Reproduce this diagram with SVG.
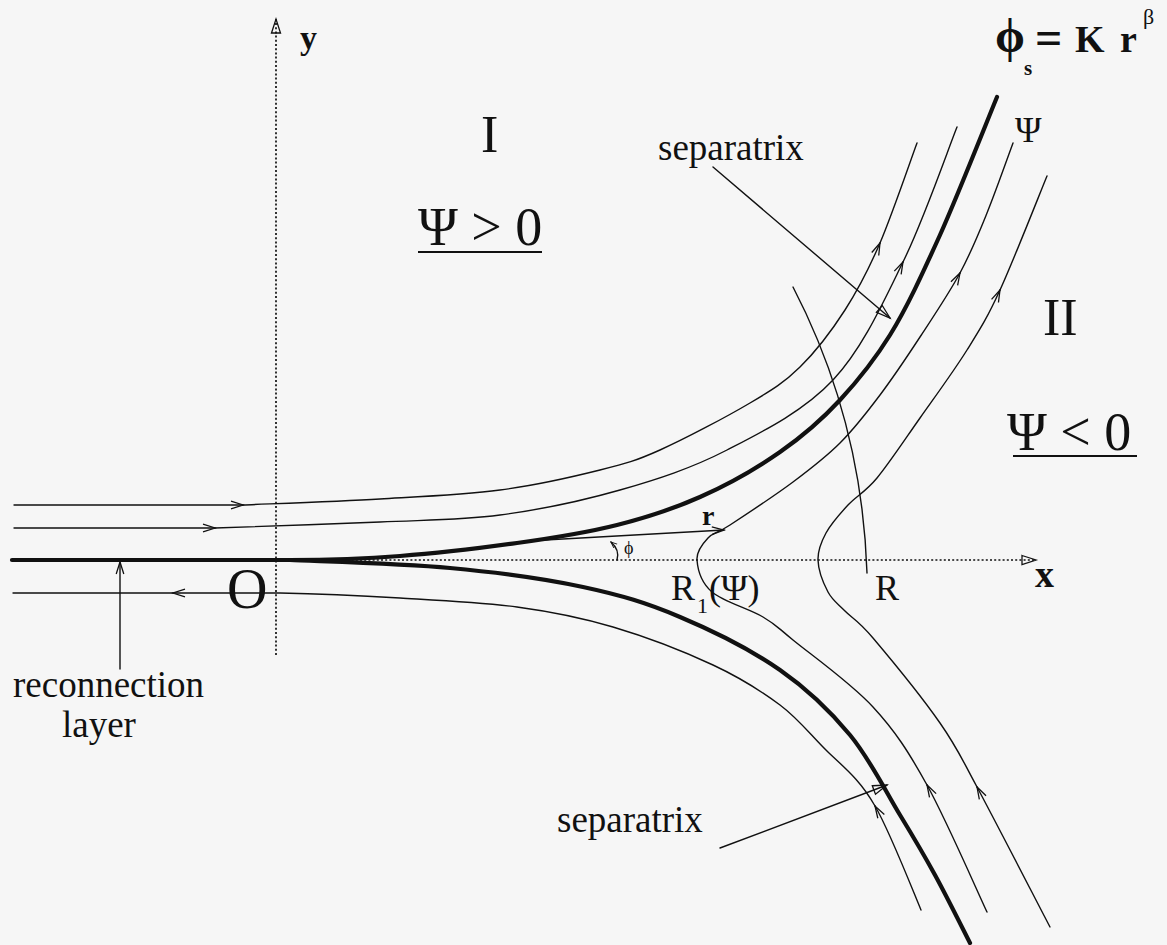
<svg xmlns="http://www.w3.org/2000/svg" width="1167" height="945" viewBox="0 0 1167 945">
<style>
.thin{fill:none;stroke:#111;stroke-width:1.4;stroke-linecap:round;stroke-linejoin:round}
.thick{fill:none;stroke:#111;stroke-width:4.2;stroke-linecap:round;stroke-linejoin:round}
.dot{fill:none;stroke:#111;stroke-width:1.7;stroke-dasharray:2 2.2}
.t{font-family:"Liberation Serif","Times New Roman",serif;fill:#111}
.b{font-weight:bold}
</style>
<defs>
<marker id="ch" viewBox="0 0 14 10" refX="13" refY="5" markerWidth="14" markerHeight="10" markerUnits="userSpaceOnUse" orient="auto" overflow="visible"><path d="M1,1.2 L13,5 L1,8.8" fill="none" stroke="#111" stroke-width="1.3"/></marker>
<marker id="tri" viewBox="0 0 16 12" refX="15" refY="6" markerWidth="16" markerHeight="12" markerUnits="userSpaceOnUse" orient="auto" overflow="visible"><path d="M1,1.5 L15,6 L1,10.5 Z" fill="none" stroke="#111" stroke-width="1.3"/></marker>
<marker id="chs" viewBox="0 0 8 6" refX="7" refY="3" markerWidth="8" markerHeight="6" markerUnits="userSpaceOnUse" orient="auto" overflow="visible"><path d="M1,0.5 L7,3 L1,5.5" fill="none" stroke="#111" stroke-width="1"/></marker>
</defs>
<rect width="1167" height="945" fill="#f6f6f6"/>

<g id="axes">
<line class="dot" x1="276" y1="655" x2="276" y2="19" marker-end="url(#tri)"/>
<line class="dot" x1="276" y1="560" x2="1036" y2="560" marker-end="url(#tri)"/>
</g>

<g id="field-lines">
<g id="line-1">
<path class="thin" d="M14,505 L243,505" marker-end="url(#ch)"/>
<path class="thin" d="M243,505 C265.8,504 337.2,501.5 380,499 C422.8,496.5 463.3,494.8 500,490 C536.7,485.2 573.3,476.7 600,470 C626.7,463.3 635,461.2 660,450 C685,438.8 726.7,416.8 750,403 C773.3,389.2 784.2,382.5 800,367 C815.8,351.5 831.7,330.7 845,310 C858.3,289.3 868,270.8 880,243" marker-end="url(#ch)"/>
<path class="thin" d="M880,243 C892,215 910.8,159.7 917,143"/>
</g>
<g id="line-2">
<path class="thin" d="M14,528 L215,528" marker-end="url(#ch)"/>
<path class="thin" d="M215,528 C242.5,527 332.5,524.2 380,522 C427.5,519.8 460,520.3 500,515 C540,509.7 582.2,500.8 620,490 C657.8,479.2 691.5,468.3 727,450 C762.5,431.7 803.7,411.3 833,380 C862.3,348.7 882.3,304.2 903,262" marker-end="url(#ch)"/>
<path class="thin" d="M903,262 C923.7,219.8 948,149.5 957,127"/>
</g>
<g id="separatrix-heavy">
<path class="thick" d="M12,560 L290,560 C330,560 362,559 400,556 C437.8,553.2 481,548 517,543 C553,538 586.5,532.7 617,525 C647.5,517.3 673,509 700,497 C727,485 757,468 780,452 C803,436 822,419.5 840,400 C858,380.5 873,362.5 890,335 C907,307.5 922,274.7 940,235 C957.8,195.3 987.5,120 997,97"/>
<path class="thick" d="M290,560 C316.7,561.3 401,563.5 450,568 C498.8,572.5 544.7,578.8 583,587 C621.3,595.2 647,603 680,617 C712.8,630.8 751.7,650.3 780,670 C808.3,689.7 830,710.8 850,735 C870,759.2 885.8,791.7 900,815 C914.2,838.3 923.3,853.7 935,875 C946.7,896.3 964.2,931.7 970,943"/>
</g>
<g id="line-3">
<path class="thin" d="M921,910 C913.5,892.2 889.3,830.3 875,806" marker-end="url(#ch)"/>
<path class="thin" d="M875,806 C860.7,780.7 845.2,768.3 829,753 C812.8,737.7 799.5,719.5 780,705 C760.5,690.5 740.8,678 713,665 C685.2,652 645.7,636.7 613,627 C580.3,617.3 552.5,611.8 517,607 C481.5,602.2 439.5,600.3 400,598 C360.5,595.7 317.8,593.8 280,593 L173,593" marker-end="url(#ch)"/>
<path class="thin" d="M173,593 L13,593"/>
</g>
<g id="line-R1">
<path class="thin" d="M987,912 C977,890.8 946,819.2 927,785" marker-end="url(#ch)"/>
<path class="thin" d="M927,785 C908,750.8 895.3,731.2 873,707 C850.7,682.8 811.3,655 793,640 C774.7,625 776.5,625 763,617 C749.5,609 723,601.5 712,592 C701,582.5 697.7,569 697,560 C696.3,551 702.5,543.8 708,538 C713.5,532.2 715.8,534.3 730,525 C744.2,515.7 774.7,495.7 793,482 C811.3,468.3 825.5,457.5 840,443 C854.5,428.5 866.7,412.7 880,395 C893.3,377.3 906.7,357.3 920,337 C933.3,316.7 948.8,293.7 960,273" marker-end="url(#ch)"/>
<path class="thin" d="M960,273 C971.2,252.3 978.2,234.7 987,213 C995.8,191.3 1008.7,154.7 1013,143"/>
</g>
<g id="line-R2">
<path class="thin" d="M1050,927 C1037.8,903.7 995.3,821 977,787" marker-end="url(#ch)"/>
<path class="thin" d="M977,787 C958.7,753 957.3,747.8 940,723 C922.7,698.2 888.8,656.7 873,638 C857.2,619.3 852.5,618.7 845,611 C837.5,603.3 832.5,600.5 828,592 C823.5,583.5 818.3,569.8 818,560 C817.7,550.2 821,542.2 826,533 C831,523.8 839.5,514.2 848,505 C856.5,495.8 865,492.5 877,478 C889,463.5 905,439.3 920,418 C935,396.7 953.7,371.3 967,350 C980.3,328.7 986.7,319 1000,290" marker-end="url(#ch)"/>
<path class="thin" d="M1000,290 C1013.3,261 1039.2,195 1047,176"/>
</g>
<path id="arc-R" class="thin" d="M793,287 Q862,420 867,573"/>
<path id="vector-r" class="thin" d="M545,540 L724,530" marker-end="url(#ch)"/>
<path id="angle-phi" class="thin" stroke-width="1" d="M617,560 Q620,550 611,542" marker-end="url(#chs)"/>
</g>

<g id="connectors">
<path class="thin" d="M713,167 L890,318" marker-end="url(#tri)"/>
<path class="thin" d="M720,848 L887,785" marker-end="url(#tri)"/>
<path class="thin" d="M120,669 L120,562" marker-end="url(#ch)"/>
</g>

<g id="labels">
<text class="t b" x="300" y="49" font-size="34">y</text>
<g id="formula">
<text class="t b" x="995" y="52" font-size="48">ϕ</text>
<text class="t b" x="1024" y="75" font-size="21">s</text>
<text class="t b" x="1035" y="54" font-size="48">=</text>
<text class="t b" x="1075" y="52" font-size="38">K</text>
<text class="t b" x="1120" y="52" font-size="38">r</text>
<text class="t" x="1143" y="24" font-size="22">β</text>
</g>
<text class="t" x="1015" y="142" font-size="36">Ψ</text>
<text class="t" x="481" y="152" font-size="52">I</text>
<g id="region-I">
<text class="t" x="418" y="245" font-size="54">Ψ &gt; 0</text>
<line x1="418" y1="252" x2="542" y2="252" stroke="#111" stroke-width="2"/>
</g>
<text class="t" x="1043" y="335" font-size="52">II</text>
<g id="region-II">
<text class="t" x="1007" y="450" font-size="54">Ψ &lt; 0</text>
<line x1="1013" y1="456" x2="1137" y2="456" stroke="#111" stroke-width="2"/>
</g>
<text class="t" x="658" y="160" font-size="37">separatrix</text>
<text class="t" x="557" y="832" font-size="37">separatrix</text>
<text class="t" x="13" y="697" font-size="37">reconnection</text>
<text class="t" x="62" y="737" font-size="37">layer</text>
<text class="t" x="227" y="608" font-size="56">O</text>
<text class="t b" x="1035" y="587" font-size="38">x</text>
<text class="t" x="875" y="600" font-size="36">R</text>
<g id="R1">
<text class="t" x="671" y="600" font-size="36">R</text>
<text class="t" x="697" y="613" font-size="22">1</text>
<text class="t" x="709" y="600" font-size="36">(Ψ)</text>
</g>
<text class="t b" x="702" y="525" font-size="28">r</text>
<text class="t" x="624" y="554" font-size="18">ϕ</text>
</g>
</svg>
